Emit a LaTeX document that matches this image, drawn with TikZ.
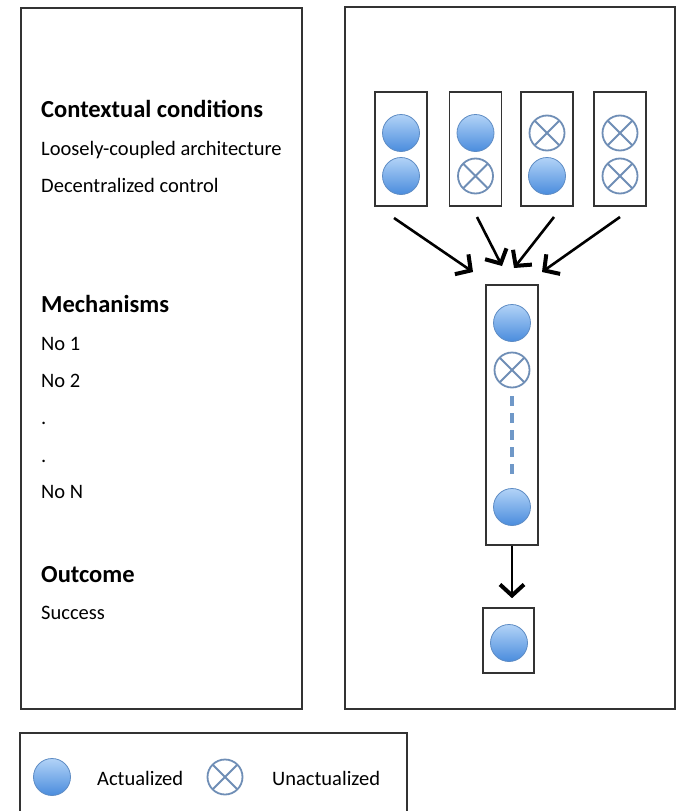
\documentclass[tikz,border=0pt]{standalone}
\usepackage{fontspec}
\setmainfont{Carlito}
\usetikzlibrary{arrows.meta,calc}
\definecolor{actt}{HTML}{B2D3F7}
\definecolor{actd}{HTML}{4A8CDD}
\definecolor{actb}{HTML}{5E8CC4}
\definecolor{unc}{HTML}{6F8EB6}
\definecolor{dashc}{HTML}{6F98C8}
\definecolor{frame}{HTML}{333333}
\tikzset{
  panel/.style={draw=frame, line width=1.4pt},
  cbox/.style={draw=frame, line width=1.6pt, inner sep=0pt, minimum width=52pt},
  act/.style={circle, inner sep=0pt, minimum size=37pt, draw=actb, line width=0.8pt, top color=actt, bottom color=actd},
  unact/.style={circle, inner sep=0pt, minimum size=35pt, draw=unc, line width=1.8pt, fill=white,
    path picture={\draw[unc, line width=1.8pt]
      (path picture bounding box.north west) -- (path picture bounding box.south east)
      (path picture bounding box.north east) -- (path picture bounding box.south west);}},
  head/.style={anchor=base west, inner sep=0pt, font=\fontsize{24.5}{28}\selectfont\bfseries},
  body/.style={anchor=base west, inner sep=0pt, font=\fontsize{20.5}{24}\selectfont},
  flow/.style={line width=2.6pt, -{Straight Barb[length=11pt,width=24pt,line width=4pt]}}
}
\begin{document}
\begin{tikzpicture}[x=1pt,y=-1pt]
\useasboundingbox (0,0) rectangle (676,811);
\clip (0,0) rectangle (676,811);
\fill[white] (0,0) rectangle (676,811);
% panels
\draw[panel] (21,8) rectangle (302,709);
\draw[panel] (345,7) rectangle (675,709);
\draw[panel] (20,733) rectangle (407,840);
% left texts
\node[head] (t1) at (41,117) {Contextual conditions};
\node[body] (t2) at (41,155) {Loosely-coupled architecture};
\node[body] (t3) at (41,192) {Decentralized control};
\node[head] (t4) at (41,312) {Mechanisms};
\node[body] (t5) at (41,350) {No 1};
\node[body] (t6) at (41,387) {No 2};
\node[body] (t7) at (41,424) {.};
\node[body] (t8) at (41,462) {.};
\node[body] (t9) at (41,498) {No N};
\node[head] (t10) at (41,582) {Outcome};
\node[body] (t11) at (41,619) {Success};
% top combination boxes
\node[cbox, minimum height=114pt] (b1) at (401,149) {};
\node[cbox, minimum height=114pt] (b2) at (475.5,149) {};
\node[cbox, minimum height=114pt] (b3) at (547,149) {};
\node[cbox, minimum height=114pt] (b4) at (620,149) {};
\node[act] (c11) at (401,133) {};
\node[act] (c12) at (401,176) {};
\node[act] (c21) at (475.5,133) {};
\node[unact] (c22) at (475.5,176) {};
\node[unact] (c31) at (547,133) {};
\node[act] (c32) at (547,176) {};
\node[unact] (c41) at (620,133) {};
\node[unact] (c42) at (620,176) {};
% middle box
\node[cbox, minimum height=260pt] (mid) at (512,415) {};
\node[act] (m1) at (512,323) {};
\node[unact] (m2) at (512,370) {};
\node[act] (m3) at (512,507) {};
\draw[dashc, line width=3.5pt, dash pattern=on 10pt off 7pt] ($(m2.south)+(0,8)$) coordinate (d1) -- ($(m3.north)+(0,-14)$) coordinate (d2);
% outcome box
\node[cbox, minimum width=51pt, minimum height=65pt] (out) at (508.5,640.5) {};
\node[act] (o1) at (509,643) {};
% arrows
\coordinate (a1s) at (394,218); \coordinate (a1e) at (473,272);
\coordinate (a2s) at (477,217); \coordinate (a2e) at (502,266);
\coordinate (a3s) at (554,217); \coordinate (a3e) at (514,268);
\coordinate (a4s) at (620,217); \coordinate (a4e) at (542,272);
\draw[flow] (a1s) -- (a1e);
\draw[flow] (a2s) -- (a2e);
\draw[flow] (a3s) -- (a3e);
\draw[flow] (a4s) -- (a4e);
\draw[flow, shorten >=9pt] (mid.south) -- (mid.south |- out.north);
% legend
\node[act] (l1) at (52,777) {};
\node[body] (l2) at (97,785) {Actualized};
\node[unact] (l3) at (225,777) {};
\node[body] (l4) at (272,785) {Unactualized};
\end{tikzpicture}
\end{document}
